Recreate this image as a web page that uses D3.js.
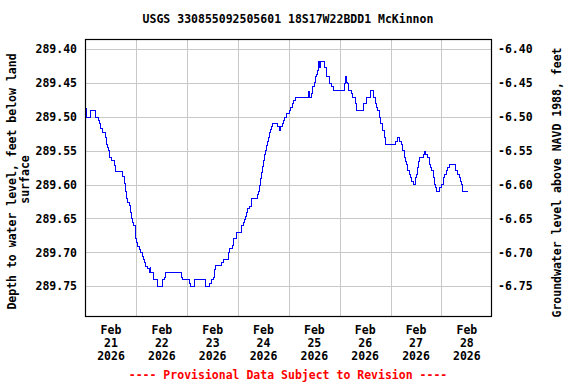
<!DOCTYPE html>
<html>
<head>
<meta charset="utf-8">
<style>
  body { margin: 0; background: #fff; }
  text { font-family: "DejaVu Sans Mono", monospace; font-weight: bold; font-size: 11.5px; }
</style>
</head>
<body>
<div id="chart"></div>
<script src="https://d3js.org/d3.v7.min.js"></script>
<script>
// hours after 2026-02-21 00:00 and depth to water (ft below land surface)
var hours = [0.0, 0.4, 2.3, 4.6, 5.9, 6.5, 7.0, 7.9, 9.0, 9.6, 10.1, 10.8, 11.2, 12.0, 13.6, 14.1,
  17.1, 18.1, 18.6, 19.3, 19.7, 20.4, 20.8, 21.4, 22.1, 22.6, 23.1, 23.5, 24.0, 24.5, 25.1, 25.6,
  26.5, 27.0, 27.4, 28.1, 28.9, 29.8, 30.3, 30.6, 31.7, 33.9, 36.3, 36.9, 37.3, 45.0, 45.4, 48.8,
  49.3, 51.4, 56.4, 58.3, 59.4, 60.0, 60.5, 61.1, 64.0, 64.9, 67.1, 67.9, 68.9, 69.5, 70.9, 73.4,
  74.1, 74.7, 75.2, 75.6, 76.4, 77.0, 78.1, 80.7, 81.3, 81.9, 82.4, 82.9, 83.3, 83.8, 84.3, 84.7,
  85.2, 85.7, 86.2, 86.6, 87.1, 87.6, 88.0, 90.6, 91.4, 92.0, 92.6, 93.2, 93.9, 94.8, 95.8, 96.4,
  97.4, 98.0, 98.9, 105.2, 105.5, 106.3, 107.1, 107.6, 108.1, 108.7, 109.3, 109.8, 110.4, 110.9,
  112.6, 113.3, 113.7, 114.7, 115.8, 116.6, 122.1, 122.5, 122.9, 123.5, 124.1, 125.1, 126.0, 127.0,
  127.9, 130.8, 132.6, 134.1, 135.9, 136.6, 137.0, 137.5, 138.3, 139.1, 139.9, 140.7, 141.4, 146.2,
  147.0, 148.1, 148.7, 149.3, 150.1, 150.9, 151.3, 151.8, 152.5, 153.1, 153.7, 154.4, 155.3, 155.8,
  156.4, 156.9, 157.5, 159.1, 159.7, 160.3, 161.0, 161.9, 162.7, 163.2, 163.8, 164.4, 165.0, 165.5,
  166.9, 167.6, 168.7, 169.3, 170.0, 170.6, 171.4, 174.5, 175.5, 176.1, 176.7, 177.3, 177.6, 180.2];

var depth = [289.486, 289.500, 289.490, 289.500, 289.505, 289.509, 289.517, 289.522, 289.530, 289.540,
  289.545, 289.549, 289.559, 289.564, 289.571, 289.580, 289.588, 289.598, 289.610, 289.620, 289.625,
  289.630, 289.640, 289.650, 289.655, 289.660, 289.669, 289.679, 289.684, 289.690, 289.695, 289.700,
  289.705, 289.710, 289.714, 289.720, 289.723, 289.729, 289.720, 289.729, 289.739, 289.750, 289.739,
  289.736, 289.729, 289.736, 289.739, 289.745, 289.750, 289.739, 289.750, 289.745, 289.739, 289.736,
  289.725, 289.719, 289.714, 289.710, 289.699, 289.694, 289.689, 289.679, 289.670, 289.659, 289.655,
  289.651, 289.646, 289.641, 289.635, 289.631, 289.620, 289.614, 289.609, 289.600, 289.590, 289.581,
  289.573, 289.563, 289.555, 289.549, 289.541, 289.536, 289.529, 289.523, 289.518, 289.513, 289.509,
  289.514, 289.520, 289.514, 289.509, 289.504, 289.500, 289.495, 289.490, 289.485, 289.480, 289.475,
  289.470, 289.462, 289.470, 289.465, 289.455, 289.448, 289.440, 289.437, 289.431, 289.418, 289.426,
  289.418, 289.426, 289.431, 289.440, 289.450, 289.455, 289.460, 289.450, 289.440, 289.448, 289.450,
  289.460, 289.465, 289.470, 289.480, 289.490, 289.480, 289.470, 289.460, 289.470, 289.480, 289.485,
  289.490, 289.500, 289.509, 289.519, 289.530, 289.540, 289.535, 289.530, 289.535, 289.540, 289.549,
  289.559, 289.565, 289.569, 289.578, 289.584, 289.589, 289.594, 289.599, 289.589, 289.584, 289.574,
  289.565, 289.559, 289.555, 289.550, 289.555, 289.559, 289.569, 289.574, 289.578, 289.589, 289.599,
  289.604, 289.609, 289.604, 289.599, 289.589, 289.584, 289.578, 289.574, 289.569, 289.578, 289.584,
  289.589, 289.594, 289.599, 289.609, 289.609];

var depthTicks = [289.40, 289.45, 289.50, 289.55, 289.60, 289.65, 289.70, 289.75];
var elevTicks = [-6.40, -6.45, -6.50, -6.55, -6.60, -6.65, -6.70, -6.75];
var dayLabels = ["21", "22", "23", "24", "25", "26", "27", "28"];
var landDatum = 283.00; // elevation = landDatum - depth

var W = 576, H = 384;
var margin = {top: 39, right: 85, bottom: 68, left: 85};
var width = W - margin.left - margin.right;   // 406
var height = H - margin.top - margin.bottom;  // 277

var start = new Date(2026, 1, 21, 0, 0);
var hr = 3600 * 1000;
function at(h) { return new Date(start.getTime() + h * hr); }

var data = hours.map(function(h, i) { return {t: at(h), v: depth[i]}; });

var x = d3.scaleTime()
    .domain([at(-0.28), at(191.4)])
    .range([0, width]);

var y = d3.scaleLinear()
    .domain([289.385, 289.794])
    .range([0, height]);

var y2 = d3.scaleLinear()
    .domain([landDatum - 289.385, landDatum - 289.794])
    .range([0, height]);

var svg = d3.select("#chart").append("svg")
    .attr("width", W)
    .attr("height", H);

svg.append("text")
    .attr("x", W / 2)
    .attr("y", 19)
    .attr("dy", "0.35em")
    .attr("text-anchor", "middle")
    .text("USGS 330855092505601 18S17W22BDD1 McKinnon");

var g = svg.append("g").attr("transform", "translate(" + margin.left + "," + margin.top + ")");

// grid
var days = d3.timeDay.range(at(1), at(191));
g.append("g")
  .selectAll("line")
  .data(days)
  .enter().append("line")
    .attr("x1", function(d) { return Math.round(x(d)) + 0.5; })
    .attr("x2", function(d) { return Math.round(x(d)) + 0.5; })
    .attr("y1", 0)
    .attr("y2", height)
    .attr("stroke", "#c8c8c8");

g.append("g")
  .selectAll("line")
  .data(depthTicks)
  .enter().append("line")
    .attr("x1", 0)
    .attr("x2", width)
    .attr("y1", function(d) { return Math.round(y(d)) + 0.5; })
    .attr("y2", function(d) { return Math.round(y(d)) + 0.5; })
    .attr("stroke", "#c8c8c8");

// data line
var line = d3.line()
    .curve(d3.curveStepAfter)
    .x(function(d) { return Math.round(x(d.t)) + 0.5; })
    .y(function(d) { return Math.round(y(d.v)) + 0.5; });

g.append("path")
    .datum(data)
    .attr("fill", "none")
    .attr("stroke", "#0000ff")
    .attr("stroke-width", 1)
    .attr("shape-rendering", "crispEdges")
    .attr("d", line);

// frame
g.append("rect")
    .attr("x", 0.5)
    .attr("y", 0.5)
    .attr("width", width)
    .attr("height", height)
    .attr("fill", "none")
    .attr("stroke", "#000")
    .attr("stroke-width", 1.2);

// left axis
var yAxis = d3.axisLeft(y)
    .tickValues(depthTicks)
    .tickFormat(d3.format(".2f"))
    .tickSize(0)
    .tickPadding(8);
g.append("g").call(yAxis)
    .call(function(a) { a.select(".domain").remove(); })
    .selectAll("text")
    .style("font-family", "DejaVu Sans Mono").style("font-weight", "bold").style("font-size", "11.5px")
    .attr("fill", "#000");

// right axis
var y2Axis = d3.axisRight(y2)
    .tickValues(elevTicks)
    .tickFormat(d3.format(".2f"))
    .tickSize(0)
    .tickPadding(7);
g.append("g").attr("transform", "translate(" + width + ",0)").call(y2Axis)
    .call(function(a) { a.select(".domain").remove(); })
    .selectAll("text")
    .text(function(d) { return d3.format(".2f")(d).replace("−", "-"); })
    .style("font-family", "DejaVu Sans Mono").style("font-weight", "bold").style("font-size", "11.5px")
    .attr("fill", "#000");

// x labels at noon of each day
var noons = dayLabels.map(function(d, i) { return at(12 + 24 * i); });
var xl = g.append("g").attr("transform", "translate(0," + height + ")")
  .selectAll("text")
  .data(noons)
  .enter().append("text")
    .attr("text-anchor", "middle")
    .attr("x", function(d) { return x(d); });
xl.append("tspan").attr("x", function(d) { return x(d); }).attr("y", 14).attr("dy", "0.35em").text("Feb");
xl.append("tspan").attr("x", function(d) { return x(d); }).attr("y", 27).attr("dy", "0.35em")
    .text(function(d, i) { return dayLabels[i]; });
xl.append("tspan").attr("x", function(d) { return x(d); }).attr("y", 40).attr("dy", "0.35em").text("2026");

// axis titles
var cy = margin.top + height / 2;
svg.append("text")
    .attr("transform", "translate(12," + (cy + 4) + ") rotate(-90)")
    .attr("text-anchor", "middle")
    .attr("dy", "0.35em")
    .text("Depth to water level, feet below land");
svg.append("text")
    .attr("transform", "translate(25," + (cy + 2) + ") rotate(-90)")
    .attr("text-anchor", "middle")
    .attr("dy", "0.35em")
    .text("surface");
svg.append("text")
    .attr("transform", "translate(557," + (cy + 5) + ") rotate(-90)")
    .attr("text-anchor", "middle")
    .attr("dy", "0.35em")
    .text("Groundwater level above NAVD 1988, feet");

svg.append("text")
    .attr("x", W / 2)
    .attr("y", 375)
    .attr("dy", "0.35em")
    .attr("text-anchor", "middle")
    .attr("fill", "#ff0000")
    .text("---- Provisional Data Subject to Revision ----");
</script>
</body>
</html>
